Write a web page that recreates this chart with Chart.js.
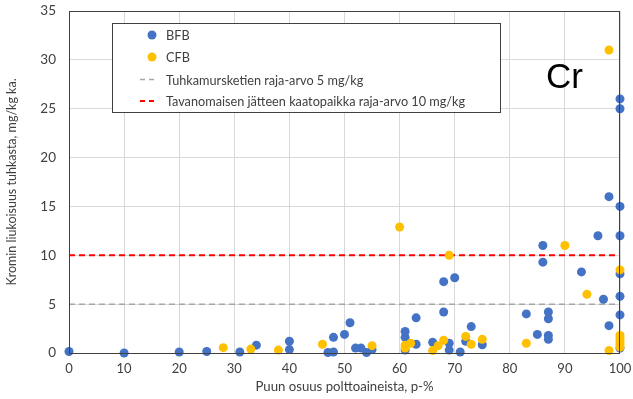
<!DOCTYPE html>
<html>
<head>
<meta charset="utf-8">
<script src="https://cdn.jsdelivr.net/npm/chart.js@4/dist/chart.umd.min.js"></script>
<style>
  html, body { margin: 0; padding: 0; background: #fff; }
  #wrap { width: 633px; height: 399px; position: relative; }
</style>
</head>
<body>
<div id="wrap"><canvas id="myChart" width="633" height="399"></canvas></div>
<script>
// BFB series (wood share %, Cr mg/kg)
var bfbX = [0, 10, 20, 25, 31, 34, 40, 40, 47, 48, 48, 50, 51, 52, 53, 54, 55, 61, 61, 61, 63, 63, 66, 68, 68, 69, 69, 70, 71, 72, 73, 75, 83, 85, 86, 86, 87, 87, 87, 87, 93, 96, 97, 98, 98, 100, 100, 100, 100, 100, 100, 100, 100];
var bfbY = [0.15, 0, 0.1, 0.15, 0.1, 0.8, 1.2, 0.35, 0.05, 0.1, 1.6, 1.9, 3.1, 0.5, 0.5, 0.05, 0.35, 2.2, 1.6, 0.3, 3.6, 0.9, 1.1, 7.3, 4.2, 1.0, 0.3, 7.7, 0.1, 1.2, 2.7, 0.85, 4.0, 1.9, 11, 9.3, 4.2, 3.5, 1.8, 1.4, 8.3, 12, 5.5, 16, 2.8, 26, 25, 15, 12, 8.1, 5.8, 3.9, 0.5];

// CFB series
var cfbX = [28, 33, 38, 46, 55, 60, 61, 61, 62, 66, 67, 68, 69, 72, 73, 75, 83, 90, 94, 98, 98, 100, 100, 100, 100, 100, 100];
var cfbY = [0.55, 0.4, 0.3, 0.9, 0.75, 12.9, 0.8, 0.5, 1.0, 0.25, 0.75, 1.3, 10, 1.7, 0.9, 1.4, 1.0, 11, 6.0, 31, 0.25, 8.5, 1.8, 1.5, 1.2, 0.9, 0.6];

// limit values
var limitAsh = 5;
var limitLandfill = 10;

var labels = ["BFB", "CFB", "Tuhkamursketien raja-arvo 5 mg/kg", "Tavanomaisen jätteen kaatopaikka raja-arvo 10 mg/kg"];
var xTitle = "Puun osuus polttoaineista, p-%";
var yTitle = "Kromin liukoisuus tuhkasta, mg/kg ka.";
var elementLabel = "Cr";

function pts(xs, ys) {
  var out = [];
  for (var i = 0; i < xs.length; i++) out.push({ x: xs[i], y: ys[i] });
  return out;
}

var blue = "#4472C4";
var yellow = "#FFC000";
var grey = "#A6A6A6";
var red = "#FF0000";

var fontFam = "Lato, 'Liberation Sans', sans-serif";

// legend box + Cr label + frame
var extras = {
  id: "extras",
  afterDraw: function (chart) {
    var ctx = chart.ctx;
    var a = chart.chartArea;
    ctx.save();
    // frame
    ctx.strokeStyle = "#404040";
    ctx.lineWidth = 1;
    ctx.strokeRect(a.left + 0.5, a.top + 0.5, a.right - a.left - 1, a.bottom - a.top);
    ctx.restore();

    ctx.save();
    // legend
    ctx.fillStyle = "#fff";
    ctx.fillRect(112, 23, 388, 89);
    ctx.strokeStyle = "#404040";
    ctx.lineWidth = 1;
    ctx.strokeRect(112.5, 23.5, 388, 89);
    var rows = [35, 57, 79.5, 101];
    ctx.font = "12.7px " + fontFam;
    ctx.textBaseline = "middle";
    // markers
    ctx.beginPath(); ctx.arc(152, rows[0], 4.5, 0, Math.PI * 2); ctx.fillStyle = blue; ctx.fill();
    ctx.beginPath(); ctx.arc(152, rows[1], 4.5, 0, Math.PI * 2); ctx.fillStyle = yellow; ctx.fill();
    ctx.setLineDash([5, 4]);
    ctx.lineWidth = 1.5; ctx.strokeStyle = grey;
    ctx.beginPath(); ctx.moveTo(140, rows[2]); ctx.lineTo(158, rows[2]); ctx.stroke();
    ctx.lineWidth = 2; ctx.strokeStyle = red;
    ctx.beginPath(); ctx.moveTo(140, rows[3]); ctx.lineTo(158, rows[3]); ctx.stroke();
    ctx.setLineDash([]);
    ctx.fillStyle = "#404040";
    for (var i = 0; i < labels.length; i++) ctx.fillText(labels[i], 166, rows[i] + 1);

    // Cr
    ctx.font = "35px 'Liberation Sans', Arial, sans-serif";
    ctx.fillStyle = "#000";
    ctx.textBaseline = "alphabetic";
    ctx.fillText(elementLabel, 546, 88);
    ctx.restore();
  }
};

var ctx = document.getElementById("myChart").getContext("2d");
var myChart = new Chart(ctx, {
  type: "scatter",
  data: {
    datasets: [
      {
        label: labels[1], data: pts(cfbX, cfbY), order: 0, clip: false,
        backgroundColor: yellow, borderColor: yellow, pointRadius: 4.5, pointHoverRadius: 4.5, borderWidth: 0
      },
      {
        label: labels[0], data: pts(bfbX, bfbY), order: 1, clip: false,
        backgroundColor: blue, borderColor: blue, pointRadius: 4.5, pointHoverRadius: 4.5, borderWidth: 0
      },
      {
        type: "line", label: labels[2], order: 2,
        data: [{ x: 0, y: limitAsh }, { x: 100, y: limitAsh }],
        borderColor: grey, borderWidth: 1.5, borderDash: [6, 4], pointRadius: 0, fill: false
      },
      {
        type: "line", label: labels[3], order: 3,
        data: [{ x: 0, y: limitLandfill }, { x: 100, y: limitLandfill }],
        borderColor: red, borderWidth: 2, borderDash: [6, 4], pointRadius: 0, fill: false
      }
    ]
  },
  options: {
    responsive: false,
    animation: false,
    events: [],
    layout: { autoPadding: false, padding: { left: 0, top: 11, right: 13, bottom: 0 } },
    plugins: { legend: { display: false }, tooltip: { enabled: false } },
    scales: {
      x: {
        type: "linear", min: 0, max: 100,
        ticks: { stepSize: 10, color: "#404040", font: { size: 13, family: fontFam }, padding: 8 },
        grid: { color: "#D9D9D9", drawTicks: false },
        border: { display: false },
        title: { display: true, text: xTitle, color: "#404040", font: { size: 13.2, family: fontFam }, padding: { top: 6 } },
        afterFit: function (s) { s.height = 46; s.paddingLeft = 0; s.paddingRight = 0; }
      },
      y: {
        min: 0, max: 35,
        ticks: { stepSize: 5, color: "#404040", font: { size: 13.5, family: fontFam }, padding: 13 },
        grid: { color: "#D9D9D9", drawTicks: false },
        border: { display: false },
        title: { display: true, text: yTitle, color: "#404040", font: { size: 12.5, family: fontFam }, padding: { bottom: 2 } },
        afterFit: function (s) { s.width = 69; s.paddingTop = 0; s.paddingBottom = 0; }
      }
    }
  },
  plugins: [extras]
});
</script>
</body>
</html>
